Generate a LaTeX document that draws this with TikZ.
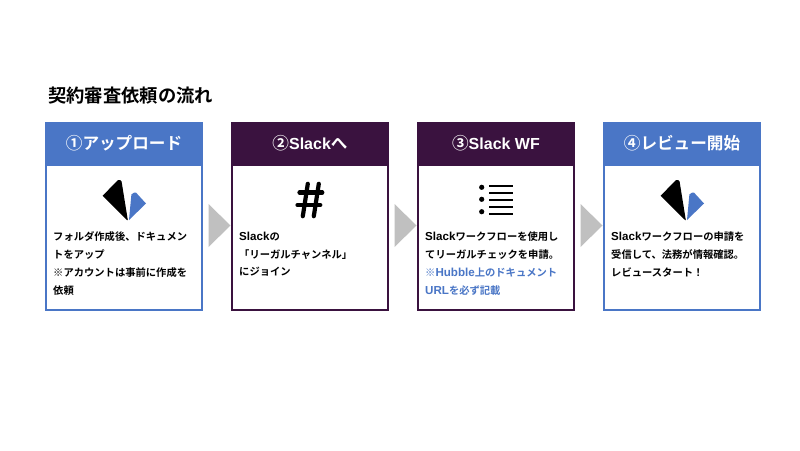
\documentclass[tikz,border=0pt]{standalone}
\usepackage{fontspec}
\setmainfont{Noto Sans CJK JP}[BoldFont={Noto Sans CJK JP Bold}]
\newfontfamily\jpb{Noto Sans CJK JP Bold}
\newfontfamily\latb{Liberation Sans Bold}
\definecolor{blueb}{HTML}{4A76C6}
\definecolor{plum}{HTML}{3A123F}
\definecolor{arrowgray}{HTML}{C0C0C0}
\newcommand{\lt}[1]{{\latb\fontsize{11.6}{17.9}\selectfont #1}}
\newcommand{\lh}[1]{{\latb\fontsize{16}{20}\selectfont #1}}
\newcommand{\logomark}[2]{%
  \fill[black] (#1-16.4,#2-4.2) -- (#1-1,#2-20) -- (#1+1.2,#2-20) -- (#1+2.6,#2-18.4) -- (#1+8.8,#2+20) -- (#1+8,#2+20) -- cycle;
  \fill[blueb] (#1+10,#2+20) -- (#1+12.4,#2-5.6) -- (#1+15.2,#2-7.4) -- (#1+17,#2-7.4) -- (#1+27,#2+3.5) -- cycle;
}
\tikzset{
  x=1pt,y=-1pt,
  bluecard/.style={draw=blueb,line width=1.9pt,fill=white,minimum width=155.4pt,minimum height=187pt,anchor=north west,inner sep=0pt,outer sep=0pt},
  plumcard/.style={draw=plum,line width=1.9pt,fill=white,minimum width=155.4pt,minimum height=187pt,anchor=north west,inner sep=0pt,outer sep=0pt},
  headtext/.style={text=white,font=\jpb\fontsize{16.6}{20}\selectfont,anchor=center,inner sep=0pt},
  bodytext/.style={anchor=north west,align=left,inner sep=0pt,font=\jpb\fontsize{10.3}{17.9}\selectfont},
  chevron/.style={fill=arrowgray,draw=none},
  hashstroke/.style={draw=black,line width=4.2pt,line cap=round},
}
\begin{document}
\begin{tikzpicture}
\useasboundingbox (0,0) rectangle (800,450);
\fill[white] (0,0) rectangle (800,450);
\node[anchor=west,inner sep=0pt,font=\jpb\fontsize{18.3}{22}\selectfont] (title) at (48,96) {契約審査依頼の流れ};

\node[bluecard] (c1) at (46.3,122.7) {};
\node[plumcard] (c2) at (232.3,122.7) {};
\node[plumcard] (c3) at (418.3,122.7) {};
\node[bluecard] (c4) at (604.3,122.7) {};

\fill[blueb] (c1.north west) rectangle ([yshift=-43pt]c1.north east);
\fill[plum] (c2.north west) rectangle ([yshift=-43pt]c2.north east);
\fill[plum] (c3.north west) rectangle ([yshift=-43pt]c3.north east);
\fill[blueb] (c4.north west) rectangle ([yshift=-43pt]c4.north east);

\node[headtext] (h1) at (124,143.5) {①アップロード};
\node[headtext] (h2) at (310,143.5) {②\lh{Slack}へ};
\node[headtext] (h3) at (496,143.5) {③\lh{Slack WF}};
\node[headtext] (h4) at (682,143.5) {④レビュー開始};

\logomark{119}{200}
\logomark{677}{200}
\draw[hashstroke] (302.8,216.2) -- (307.8,183.8);
\draw[hashstroke] (313.8,216.2) -- (318.8,183.8);
\draw[hashstroke] (299.5,192.5) -- (322.3,192.5);
\draw[hashstroke] (297.5,205) -- (320.3,205);
\foreach \yy in {186,193,200,207,214} \draw[black,line width=2pt] (489.3,\yy) -- (512.7,\yy);
\foreach \yy in {187.3,199.3,211.7} \fill[black] (481.7,\yy) circle (2.6);

\node[bodytext] (b1) at (53,231.5) {フォルダ作成後、ドキュメン\\トをアップ\\※アカウントは事前に作成を\\依頼};
\node[bodytext] (b2) at (239,231.5) {\lt{Slack}の\\「リーガルチャンネル」\\にジョイン};
\node[bodytext] (b3) at (425,231.5) {\lt{Slack}ワークフローを使用し\\てリーガルチェックを申請。\\\textcolor{blueb}{※\lt{Hubble}上のドキュメント}\\\textcolor{blueb}{\lt{URL}を必ず記載}};
\node[bodytext] (b4) at (611,231.5) {\lt{Slack}ワークフローの申請を\\受信して、法務が情報確認。\\レビュースタート！};

\fill[chevron] (208.5,204) -- (230.5,225.5) -- (208.5,247) -- cycle;
\fill[chevron] (394.5,204) -- (416.5,225.5) -- (394.5,247) -- cycle;
\fill[chevron] (580.5,204) -- (602.5,225.5) -- (580.5,247) -- cycle;
\end{tikzpicture}
\end{document}
